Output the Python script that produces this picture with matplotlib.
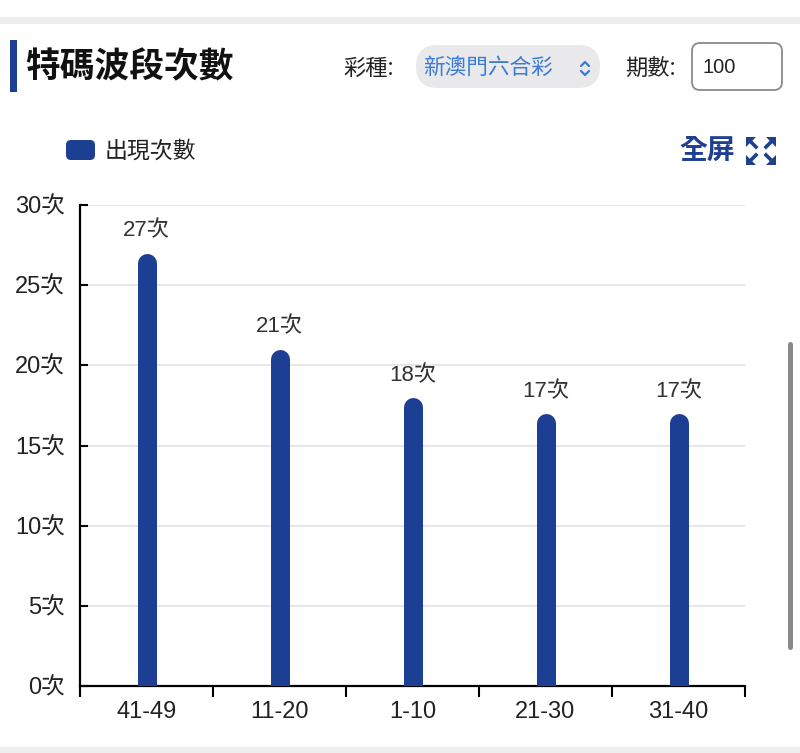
import matplotlib.pyplot as plt
from matplotlib.patches import FancyBboxPatch, Rectangle, Polygon

# data
ranges = ['41-49', '11-20', '1-10', '21-30', '31-40']
counts = [27, 21, 18, 17, 17]
yticks = [0, 5, 10, 15, 20, 25, 30]

BLUE = '#1c3f94'
CJK = ['Liberation Sans', 'Noto Sans CJK TC', 'DejaVu Sans']
plt.rcParams['font.family'] = CJK

W, H = 800, 753
fig = plt.figure(figsize=(W / 100, H / 100), dpi=100)

# page overlay in pixel coords
bg = fig.add_axes([0, 0, 1, 1])
bg.set_xlim(0, W)
bg.set_ylim(H, 0)
bg.axis('off')

bg.add_patch(Rectangle((0, 17), W, 7, color='#eeeeee', lw=0))
bg.add_patch(Rectangle((0, 747), W, 6, color='#eeeeee', lw=0))
bg.add_patch(Rectangle((10, 40), 7, 52, color=BLUE, lw=0))
bg.text(25, 67, '特碼波段次數', fontsize=25, fontweight='bold', color='#111111',
        va='center', ha='left', family=['Noto Sans CJK TC'])

bg.text(343, 68, '彩種:', fontsize=16, color='#222222', va='center', family=['Noto Sans CJK TC'])
bg.add_patch(FancyBboxPatch((416, 45), 184, 43, boxstyle='round,pad=0,rounding_size=21.5',
                            fc='#e9e9ec', ec='none'))
bg.text(423, 68, '新澳門六合彩', fontsize=15.6, color='#3a7bd5', va='center', family=['Noto Sans CJK TC'])
bg.plot([581, 585, 589], [66, 62, 66], color='#3a7bd5', lw=1.6, solid_capstyle='round')
bg.plot([581, 585, 589], [71, 75, 71], color='#3a7bd5', lw=1.6, solid_capstyle='round')

bg.text(625, 68, '期數:', fontsize=16, color='#222222', va='center', family=['Noto Sans CJK TC'])
bg.add_patch(FancyBboxPatch((692, 43), 90, 47, boxstyle='round,pad=0,rounding_size=8',
                            fc='white', ec='#8a8a8a', lw=1.3))
bg.text(702, 67, '100', fontsize=14.5, color='#222222', va='center')

# legend
bg.add_patch(FancyBboxPatch((66, 140), 29, 20, boxstyle='round,pad=0,rounding_size=5',
                            fc=BLUE, ec='none'))
bg.text(105, 151, '出現次數', fontsize=16.5, color='#222222', va='center', family=['Noto Sans CJK TC'])

# fullscreen button
bg.text(679, 151, '全屏', fontsize=20, fontweight='bold', color='#1f3f8f', va='center',
        family=['Noto Sans CJK TC'])
for cx, cy, sx, sy in [(746, 137, 1, 1), (776, 137, -1, 1), (746, 165, 1, -1), (776, 165, -1, -1)]:
    bg.add_patch(Polygon([(cx, cy), (cx + 10 * sx, cy), (cx, cy + 10 * sy)], closed=True,
                         fc='#1f3f8f', ec='none'))
    bg.plot([cx + 3 * sx, cx + 10 * sx], [cy + 3 * sy, cy + 10 * sy], color='#1f3f8f', lw=2.6)

# scrollbar
bg.add_patch(FancyBboxPatch((788, 342), 5, 308, boxstyle='round,pad=0,rounding_size=2.5',
                            fc='#8a8a8a', ec='none'))

# chart
ax = fig.add_axes([80 / W, 1 - 686 / H, 665 / W, (686 - 205) / H])
ax.set_xlim(-0.5, len(ranges) - 0.5)
ax.set_ylim(0, 30)
x = list(range(len(ranges)))

px_per_unit = (686 - 205) / 30
bar_px = 19
r = bar_px / 2 / px_per_unit
bars = ax.vlines(x, 0, [c - r for c in counts], color=BLUE, linewidth=bar_px * 0.72, zorder=3)
bars.set_capstyle('round')

for xi, c in zip(x, counts):
    ax.annotate(f'{c}次', (xi, c), xytext=(0, 16), textcoords='offset points',
                ha='center', va='center', fontsize=16, color='#333333')

ax.set_yticks(yticks)
ax.set_yticklabels([f'{v}次' for v in yticks], fontsize=17, color='#222222')
ax.tick_params(axis='y', direction='in', length=6, width=1.5, pad=11)
ax.set_xticks(x)
ax.set_xticklabels(ranges, fontsize=17, color='#222222')
ax.set_xticks([i - 0.5 for i in range(len(ranges) + 1)], minor=True)
ax.tick_params(axis='x', which='major', length=0, pad=11)
ax.tick_params(axis='x', which='minor', length=8, width=1.5, direction='out')

ax.grid(axis='y', color='#e3e3e3', linewidth=1.2, zorder=0)
ax.set_axisbelow(True)
for s in ['top', 'right']:
    ax.spines[s].set_visible(False)
for s in ['left', 'bottom']:
    ax.spines[s].set_linewidth(1.6)
    ax.spines[s].set_color('black')
ax.patch.set_alpha(0)

fig.savefig('out.png', dpi=100)
